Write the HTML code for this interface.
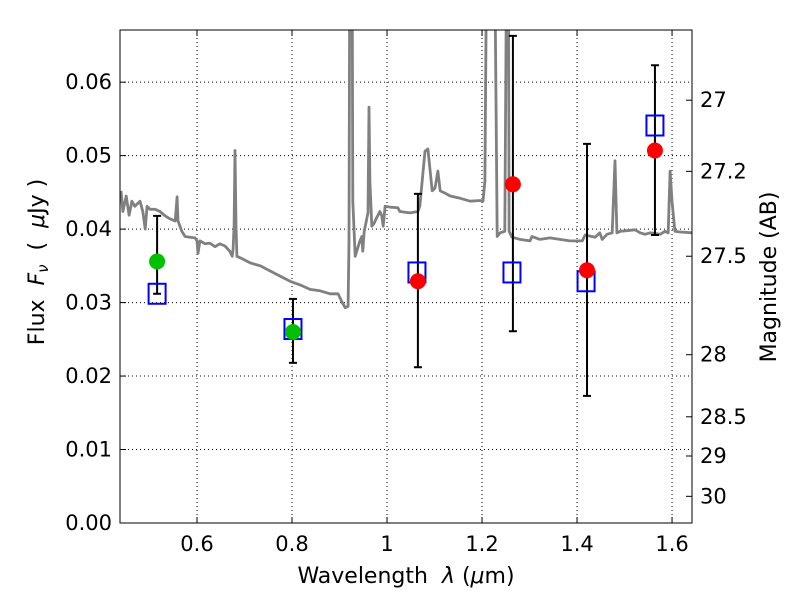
<!DOCTYPE html>
<html><head><meta charset="utf-8"><style>
html,body{margin:0;padding:0;background:#fff;}
svg text{font-family:"DejaVu Sans","Liberation Sans",sans-serif;}
</style></head><body>
<svg id="chart" width="800" height="600" xmlns="http://www.w3.org/2000/svg"></svg>
<script>
const specLam=[0.440,0.444,0.451,0.457,0.463,0.469,0.480,0.486,0.491,0.495,0.501,0.512,0.522,0.533,0.543,0.554,0.558,0.560,0.568,0.575,0.585,0.596,0.600,0.602,0.606,0.617,0.627,0.638,0.648,0.659,0.669,0.674,0.676,0.678,0.680,0.682,0.684,0.691,0.712,0.733,0.754,0.775,0.796,0.817,0.838,0.859,0.880,0.897,0.905,0.912,0.918,0.920,0.922,0.926,0.928,0.933,0.943,0.947,0.949,0.952,0.960,0.962,0.964,0.968,0.973,0.977,0.985,0.989,0.992,0.996,1.006,1.023,1.027,1.048,1.065,1.069,1.080,1.086,1.095,1.101,1.107,1.112,1.122,1.133,1.154,1.175,1.196,1.202,1.206,1.211,1.225,1.232,1.238,1.248,1.253,1.255,1.257,1.263,1.280,1.301,1.305,1.322,1.343,1.364,1.385,1.411,1.417,1.438,1.448,1.453,1.463,1.474,1.480,1.484,1.491,1.522,1.533,1.543,1.554,1.575,1.585,1.592,1.596,1.600,1.606,1.617,1.642];
const specFlux=[0.0452,0.0424,0.0445,0.0419,0.0438,0.0431,0.0438,0.0424,0.0400,0.0431,0.0427,0.0427,0.0424,0.0418,0.0414,0.0411,0.0444,0.0411,0.0397,0.0390,0.0389,0.0388,0.0384,0.0367,0.0384,0.0380,0.0381,0.0376,0.0380,0.0377,0.0370,0.0363,0.0373,0.0405,0.0507,0.0405,0.0363,0.0361,0.0354,0.0350,0.0343,0.0336,0.0329,0.0324,0.0318,0.0316,0.0312,0.0312,0.0301,0.0293,0.0295,0.0384,0.09,0.09,0.0438,0.0363,0.0384,0.0390,0.0370,0.0397,0.0422,0.0566,0.0465,0.0404,0.0408,0.0414,0.0424,0.0418,0.0404,0.0431,0.0430,0.0429,0.0424,0.0422,0.0424,0.0431,0.0506,0.0509,0.0452,0.0456,0.0479,0.0452,0.0449,0.0445,0.0442,0.0438,0.0439,0.0438,0.0465,0.09,0.09,0.0390,0.0395,0.0397,0.09,0.09,0.0397,0.0389,0.0386,0.0384,0.0390,0.0386,0.0388,0.0386,0.0384,0.0384,0.0392,0.0389,0.0395,0.0386,0.0393,0.0395,0.0493,0.0395,0.0397,0.0399,0.0395,0.0393,0.0395,0.0393,0.0397,0.0395,0.0479,0.0438,0.0397,0.0396,0.0395];
const greenLam=[0.516,0.802];
const greenFlux=[0.0356,0.0260];
const boxLam=[0.516,0.802,1.063,1.263,1.419,1.564];
const boxFlux=[0.0312,0.0264,0.0341,0.0341,0.0329,0.0541];
const redLam=[1.065,1.265,1.421,1.564];
const redFlux=[0.0329,0.0461,0.0344,0.0507];
const errLam=[0.516,0.802,1.065,1.265,1.421,1.564];
const errLo=[0.0312,0.0218,0.0212,0.0261,0.0173,0.0392];
const errHi=[0.0418,0.0305,0.0448,0.0663,0.0516,0.0623];
const xTicks=[0.6,0.8,1.0,1.2,1.4,1.6];
const xTickLabels=["0.6","0.8","1","1.2","1.4","1.6"];
const yTicks=[0,0.01,0.02,0.03,0.04,0.05,0.06];
const yTickLabels=["0.00","0.01","0.02","0.03","0.04","0.05","0.06"];
const magTicks=[27,27.2,27.5,28,28.5,29,30];
const magTickLabels=["27","27.2","27.5","28","28.5","29","30"];

const L=120,R=692,T=30,B=523;
const xMin=0.4379,xMax=1.642,yMin=0,yMax=0.0671;
const xs=v=>L+(v-xMin)/(xMax-xMin)*(R-L);
const ys=v=>B-(v-yMin)/(yMax-yMin)*(B-T);
const magToFlux=m=>Math.pow(10,(23.9-m)/2.5);
const NS="http://www.w3.org/2000/svg";
const svg=document.getElementById('chart');
function mk(tag,attrs,parent){const e=document.createElementNS(NS,tag);for(const k in attrs)e.setAttribute(k,attrs[k]);(parent||svg).appendChild(e);return e;}

const defs=mk('defs',{});
const cp=mk('clipPath',{id:'clip'},defs);
mk('rect',{x:L,y:T,width:R-L,height:B-T},cp);

const grid=mk('g',{});


xTicks.forEach(v=>{mk('line',{x1:xs(v),x2:xs(v),y1:T,y2:B,stroke:'#000','stroke-width':1,'stroke-dasharray':'1,3'},grid);});
yTicks.forEach(v=>{mk('line',{x1:L,x2:R,y1:ys(v),y2:ys(v),stroke:'#000','stroke-width':1,'stroke-dasharray':'1,3'},grid);});

const pts=specLam.map((l,i)=>xs(l).toFixed(1)+','+ys(specFlux[i]).toFixed(1)).join(' ');
const spec=mk('polyline',{points:pts,fill:'none',stroke:'#808080','stroke-width':2.8,'clip-path':'url(#clip)','stroke-linejoin':'round'});



errLam.forEach((l,i)=>{
  const g=mk('g',{stroke:'#000','stroke-width':2});
  
  
  const x=xs(l);
  mk('line',{x1:x,x2:x,y1:ys(errLo[i]),y2:ys(errHi[i])},g);
  mk('line',{x1:x-4,x2:x+4,y1:ys(errLo[i]),y2:ys(errLo[i])},g);
  mk('line',{x1:x-4,x2:x+4,y1:ys(errHi[i]),y2:ys(errHi[i])},g);
});
boxLam.forEach((l,i)=>{
  const r=mk('rect',{x:xs(l)-8.5,y:ys(boxFlux[i])-10,width:17,height:20,fill:'none',stroke:'#0000ff','stroke-width':2});
  
  
});
greenLam.forEach((l,i)=>{
  const c=mk('circle',{cx:xs(l),cy:ys(greenFlux[i]),r:8,fill:'#00c000'});
  
  
});
redLam.forEach((l,i)=>{
  const c=mk('circle',{cx:xs(l),cy:ys(redFlux[i]),r:8,fill:'#ff0000'});
  
  
});

const fr=mk('rect',{x:L,y:T,width:R-L,height:B-T,fill:'none',stroke:'#000','stroke-width':1});



xTicks.forEach((v,i)=>{
  const x=xs(v);
  mk('line',{x1:x,x2:x,y1:B,y2:B-6,stroke:'#000'});
  mk('line',{x1:x,x2:x,y1:T,y2:T+6,stroke:'#000'});
  const t=mk('text',{x:x,y:B+28,'font-size':21,'text-anchor':'middle'});
  t.textContent=xTickLabels[i];
  
  
});
yTicks.forEach((v,i)=>{
  const y=ys(v);
  mk('line',{x1:L,x2:L+6,y1:y,y2:y,stroke:'#000'});
  const t=mk('text',{x:L-8,y:y+7,'font-size':21,'text-anchor':'end'});
  t.textContent=yTickLabels[i];
  
  
});
magTicks.forEach((m,i)=>{
  const y=ys(magToFlux(m));
  mk('line',{x1:R,x2:R-6,y1:y,y2:y,stroke:'#000'});
  const t=mk('text',{x:R+8,y:y+7,'font-size':21,'text-anchor':'start'});
  t.textContent=magTickLabels[i];
  
  
});
</script>
<svg width="800" height="600" style="position:absolute;left:0;top:0" xmlns="http://www.w3.org/2000/svg">
<text x="406" y="583" font-size="22" text-anchor="middle" font-family="DejaVu Sans, Liberation Sans, sans-serif" xml:space="preserve">Wavelength  <tspan font-style="italic">λ</tspan> (<tspan font-style="italic">μ</tspan>m)</text>
<text transform="translate(44,262) rotate(-90)" font-size="22" text-anchor="middle" font-family="DejaVu Sans, Liberation Sans, sans-serif" xml:space="preserve">Flux  <tspan font-style="italic">F</tspan><tspan font-style="italic" font-size="15" dy="4">ν</tspan><tspan dy="-4">  (  </tspan><tspan font-style="italic">μ</tspan>Jy )</text>
<text transform="translate(776,277) rotate(-90)" font-size="22" text-anchor="middle" font-family="DejaVu Sans, Liberation Sans, sans-serif">Magnitude (AB)</text>
</svg>
</body></html>
